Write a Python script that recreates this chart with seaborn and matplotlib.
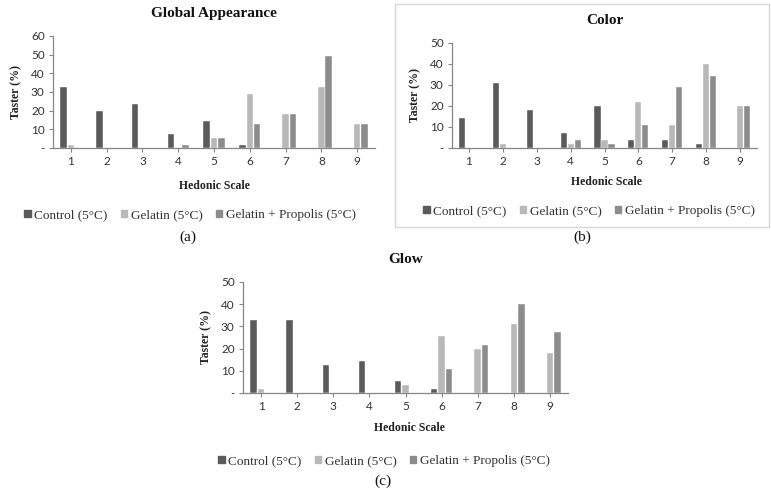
import pandas as pd
import matplotlib
matplotlib.use("Agg")
import matplotlib.pyplot as plt
import seaborn as sns
from matplotlib.patches import Rectangle
from matplotlib.ticker import FuncFormatter

# hedonic scale 1..9
scale = ["1", "2", "3", "4", "5", "6", "7", "8", "9"]
groups = ["Control (5°C)", "Gelatin (5°C)", "Gelatin + Propolis (5°C)"]

# Global appearance (%)
ga_control = [32.7, 20.0, 23.6, 7.3, 14.5, 1.8, 0, 0, 0]
ga_gelatin = [1.8, 0, 0, 0, 5.5, 29.1, 18.2, 32.7, 12.7]
ga_propolis = [0, 0, 0, 1.8, 5.5, 12.7, 18.2, 49.1, 12.7]

# Color (%)
co_control = [14.5, 30.9, 18.2, 7.3, 20.0, 3.6, 3.6, 1.8, 0]
co_gelatin = [0, 1.8, 0, 1.8, 3.6, 21.8, 10.9, 40.0, 20.0]
co_propolis = [0, 0, 0, 3.6, 1.8, 10.9, 29.1, 34.5, 20.0]

# Glow (%)
gl_control = [32.7, 32.7, 12.7, 14.5, 5.5, 1.8, 0, 0, 0]
gl_gelatin = [1.8, 0, 0, 0, 3.6, 25.5, 20.0, 30.9, 18.2]
gl_propolis = [0, 0, 0, 0, 0, 10.9, 21.8, 40.0, 27.3]

palette = ["#5a5a5a", "#b8b8b8", "#8c8c8c"]

W, H = 771, 495
sns.set_theme(style="white")
plt.rcParams["font.family"] = ["DejaVu Sans"]

fig = plt.figure(figsize=(W / 100, H / 100), dpi=100)
fig.patch.set_facecolor("white")


def long_df(control, gelatin, propolis):
    rows = []
    for g, vals in zip(groups, [control, gelatin, propolis]):
        for s, v in zip(scale, vals):
            rows.append({"scale": s, "group": g, "value": v})
    return pd.DataFrame(rows)


def px_axes(left, right, top, bottom):
    return fig.add_axes([left / W, 1 - bottom / H, (right - left) / W, (bottom - top) / H])


def panel(ax, df, title, ymax, xlab, leg, tag):
    # xlab, leg, tag: (x, y) centres in pixels
    sns.barplot(data=df, x="scale", y="value", hue="group", palette=palette,
                width=0.62, gap=0.12, ax=ax, legend=False, saturation=1,
                edgecolor="white", linewidth=0.3)
    ax.set_xlim(-0.5, 8.5)
    ax.set_ylim(0, ymax)
    ax.set_yticks(range(0, ymax + 1, 10))
    ax.yaxis.set_major_formatter(FuncFormatter(lambda v, p: "-" if v == 0 else f"{v:.0f}"))
    for s in ["top", "right"]:
        ax.spines[s].set_visible(False)
    for s in ["left", "bottom"]:
        ax.spines[s].set_color("#868686")
        ax.spines[s].set_linewidth(0.9)
    ax.tick_params(axis="both", which="major", length=3, width=0.8, color="#868686",
                   labelsize=8.5, labelcolor="#333333", pad=3, left=True, bottom=True)
    for lbl in ax.get_xticklabels() + ax.get_yticklabels():
        lbl.set_family("Lato")
    ax.set_xlabel("")
    ax.set_ylabel("Taster (%)", family="Liberation Serif", fontweight="bold",
                  fontsize=8.5, color="#222222", labelpad=6)
    ax.set_title(title, family="Liberation Serif", fontweight="bold", fontsize=11,
                 color="#111111", pad=14)
    fig.text(xlab[0] / W, 1 - xlab[1] / H, "Hedonic Scale", family="Liberation Serif",
             fontweight="bold", fontsize=8.5, ha="center", va="center", color="#222222")
    handles = [Rectangle((0, 0), 1, 1, color=c) for c in palette]
    fig.legend(handles, groups, loc="center", bbox_to_anchor=(leg[0] / W, 1 - leg[1] / H),
               ncol=3, frameon=False, handlelength=0.5, handleheight=0.5,
               handletextpad=0.25, columnspacing=1.0,
               prop={"family": "Liberation Serif", "size": 9.5}, labelcolor="#333333")
    fig.text(tag[0] / W, 1 - tag[1] / H, tag[2], family="Liberation Serif", fontsize=11,
             ha="center", va="center", color="#111111")


# frame around panel (b)
fig.patches.append(Rectangle((395 / W, 1 - 227 / H), 374 / W, 223 / H,
                             transform=fig.transFigure, fill=False,
                             edgecolor="#d6d6d6", linewidth=1.0))

ax_a = px_axes(53, 375, 36, 148)
panel(ax_a, long_df(ga_control, ga_gelatin, ga_propolis), "Global Appearance", 60,
      (214, 186), (190, 215), (188, 237, "(a)"))

ax_b = px_axes(452, 757, 43, 148)
panel(ax_b, long_df(co_control, co_gelatin, co_propolis), "Color", 50,
      (606, 182), (589, 211), (582, 237, "(b)"))

ax_c = px_axes(243, 568, 282, 393)
panel(ax_c, long_df(gl_control, gl_gelatin, gl_propolis), "Glow", 50,
      (409, 428), (384, 461), (383, 481, "(c)"))

fig.savefig("out.png", dpi=100)
